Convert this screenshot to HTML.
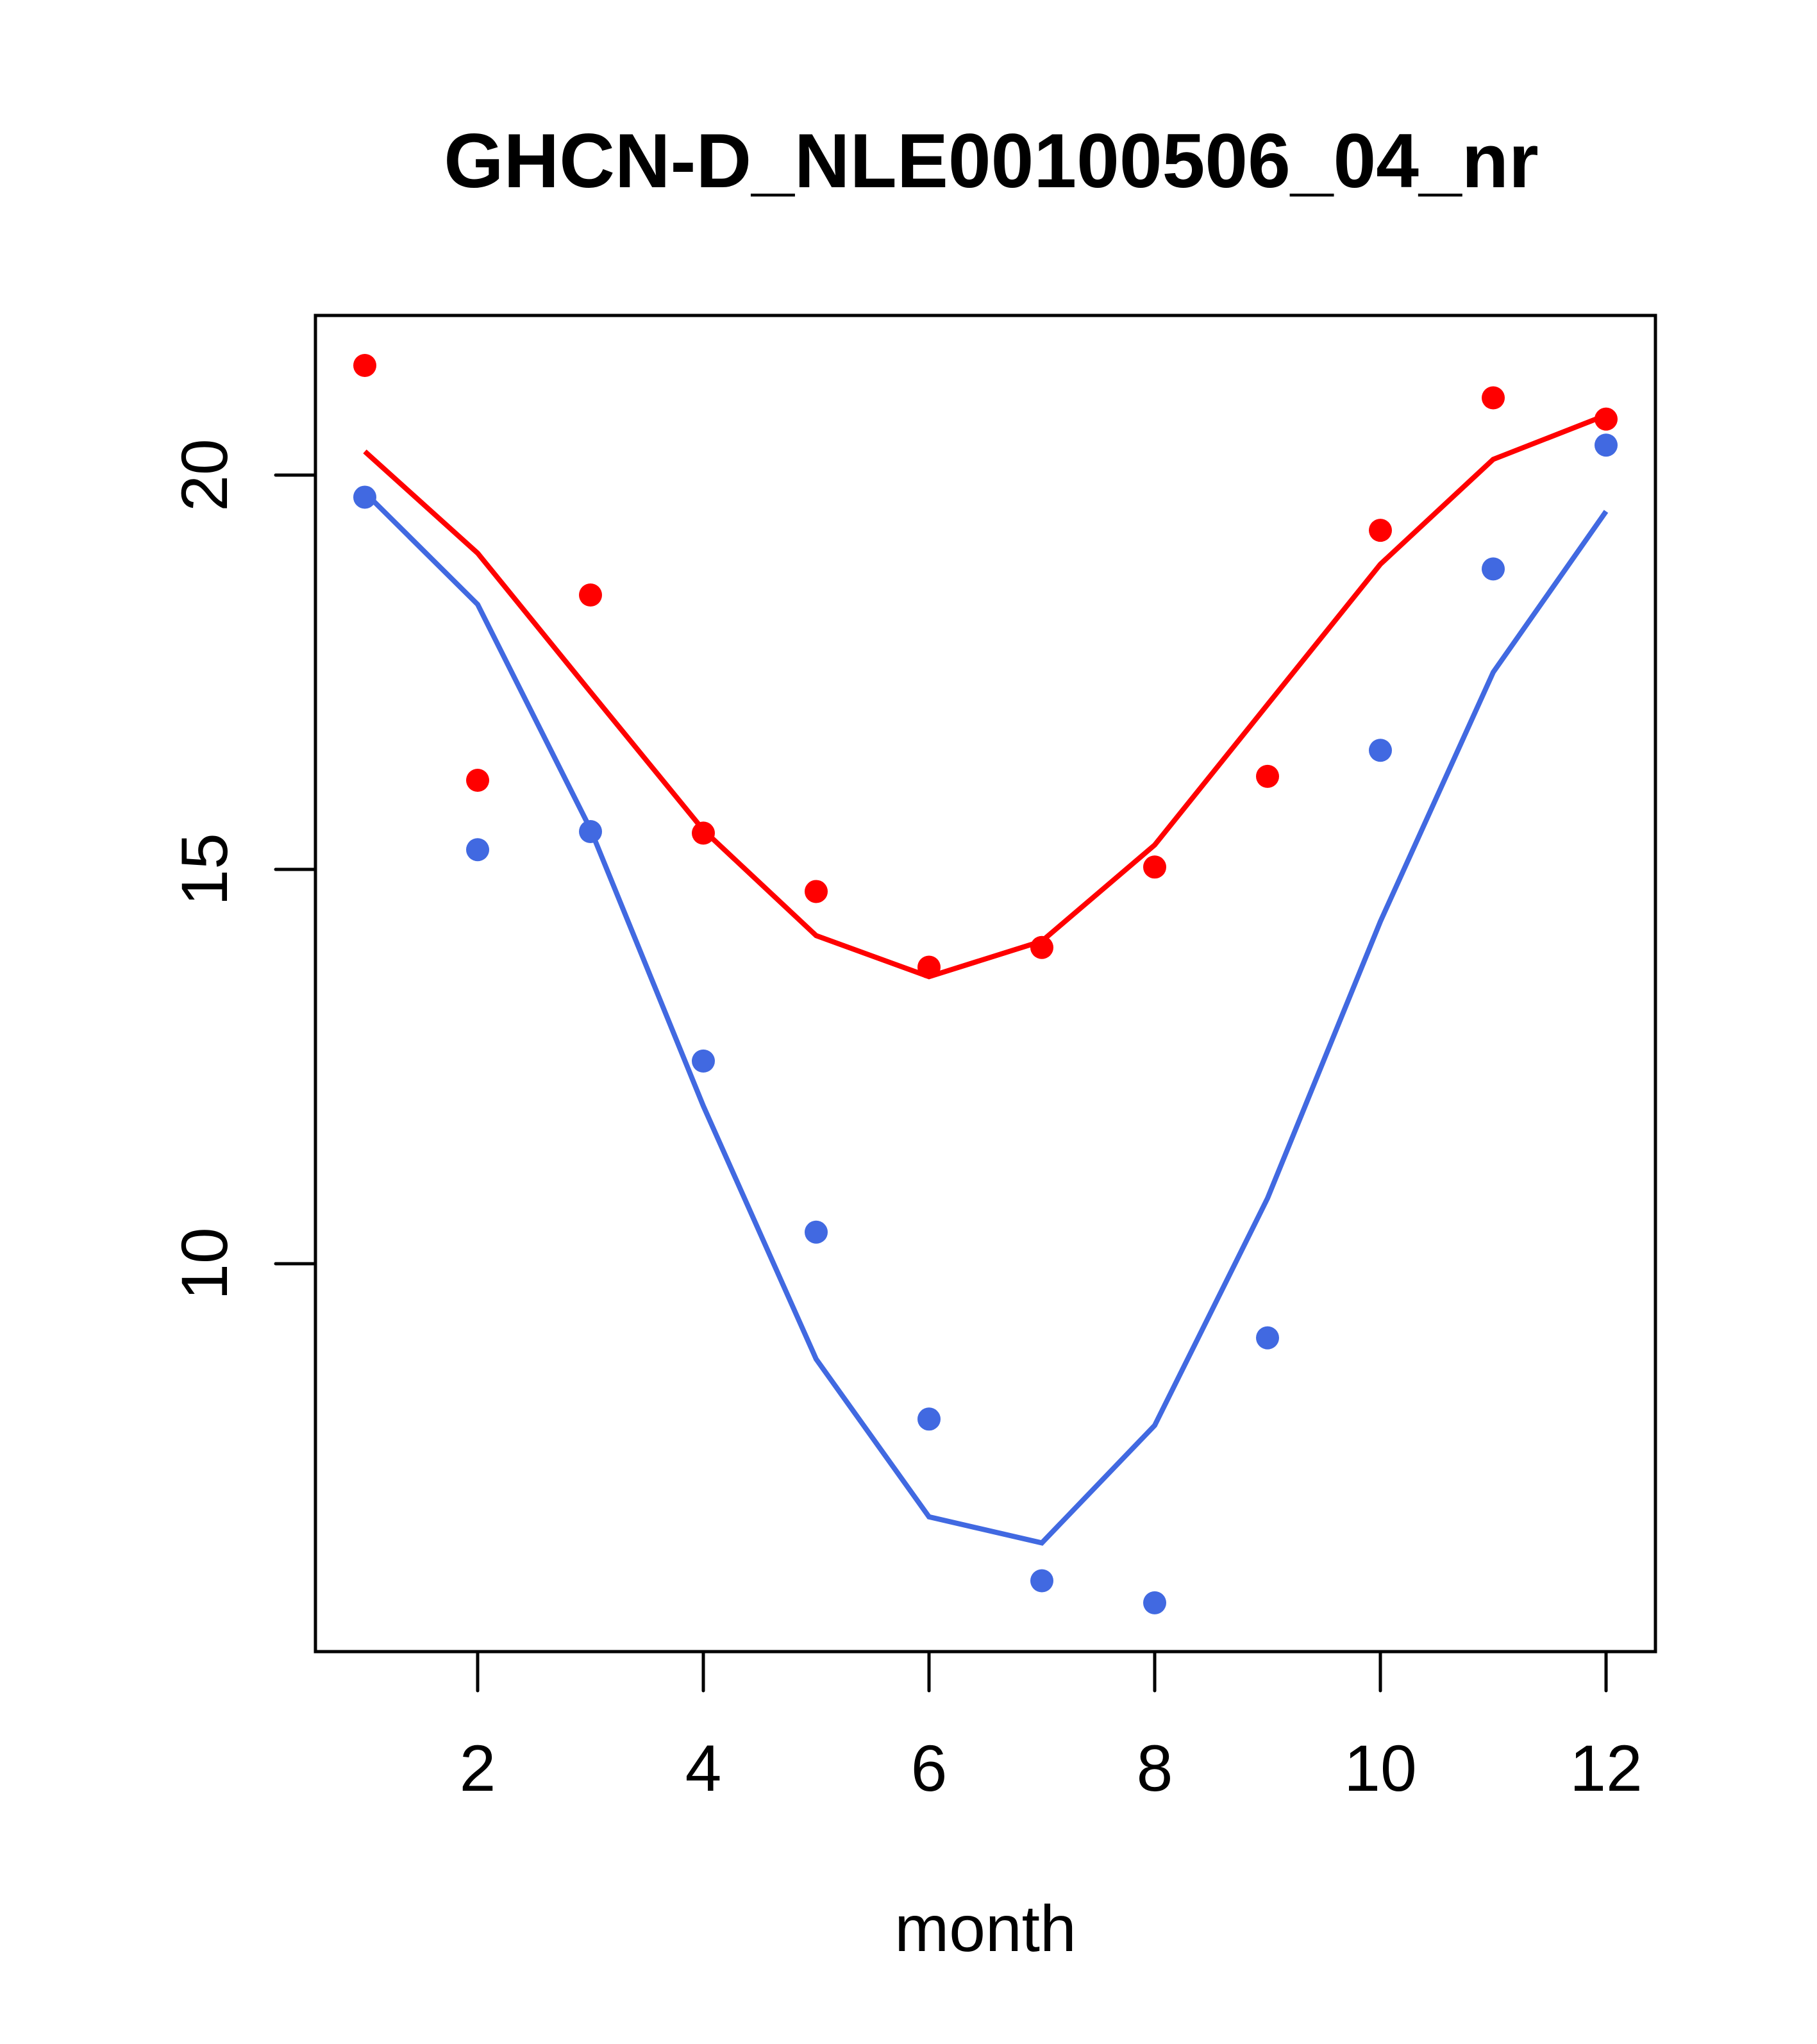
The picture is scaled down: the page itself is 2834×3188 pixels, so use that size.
<!DOCTYPE html>
<html><head><meta charset="utf-8"><style>html,body{margin:0;padding:0;background:#fff}svg{display:block}</style></head>
<body>
<svg width="2834" height="3188" viewBox="0 0 2834 3188" xmlns="http://www.w3.org/2000/svg" font-family="Liberation Sans, Arial, sans-serif">
<rect width="2834" height="3188" fill="#fff"/>
<text x="1546" y="292" font-size="120" font-weight="bold" text-anchor="middle">GHCN-D_NLE00100506_04_nr</text>
<rect x="492" y="492" width="2090" height="2084" fill="none" stroke="#000" stroke-width="5"/>
<g id="axes"></g>
<g id="series"></g>
<text x="1537" y="3043" font-size="102" text-anchor="middle">month</text>
</svg>
<script>
const months=[1,2,3,4,5,6,7,8,9,10,11,12];
const xTicks=[2,4,6,8,10,12];
const yTicks=[10,15,20];
const redPoints=[21.39,16.13,18.48,15.46,14.72,13.76,14.01,15.03,16.18,19.30,20.98,20.71];
const redLine=[20.30,19.01,17.25,15.50,14.16,13.64,14.09,15.31,17.09,18.87,20.20,20.76];
const bluePoints=[19.72,15.25,15.48,12.57,10.40,8.03,5.98,5.70,9.06,16.51,18.81,20.38];
const blueLine=[19.78,18.36,15.51,12.00,8.79,6.79,6.46,7.95,10.83,14.34,17.50,19.54];
const NS='http://www.w3.org/2000/svg';
function X(m){return 569+(m-1)*176;}
function Y(v){return 741+(20-v)*123;}
function mk(t,a,p){const e=document.createElementNS(NS,t);for(const k in a)e.setAttribute(k,a[k]);p.appendChild(e);return e;}
const axes=document.getElementById('axes');
for(const t of xTicks){
 const l=mk('line',{x1:X(t),x2:X(t),y1:2576,y2:2637,stroke:'#000','stroke-width':5,'stroke-linecap':'round'},axes);
 
 
 const tx=mk('text',{x:X(t),y:2793,'font-size':102,'text-anchor':'middle'},axes);tx.textContent=t;
 
 
}
for(const t of yTicks){
 const l=mk('line',{x1:430,x2:492,y1:Y(t),y2:Y(t),stroke:'#000','stroke-width':5,'stroke-linecap':'round'},axes);
 
 
 const tx=mk('text',{x:354,y:Y(t),'font-size':102,'text-anchor':'middle',transform:`rotate(-90 354 ${Y(t)})`},axes);tx.textContent=t;
 
 
}
const s=document.getElementById('series');
function line(vals,col,name){
 const p=mk('polyline',{points:vals.map((v,i)=>X(months[i])+','+Y(v)).join(' '),fill:'none',stroke:col,'stroke-width':8},s);
 
 
}
function pts(vals,col,name){
 vals.forEach((v,i)=>{const c=mk('circle',{cx:X(months[i]),cy:Y(v),r:18,fill:col},s);
 
 });
}
line(redLine,'#ff0000','red-line');
line(blueLine,'#4169e1','blue-line');
pts(redPoints,'#ff0000','red-point');
pts(bluePoints,'#4169e1','blue-point');
</script>
</body></html>
